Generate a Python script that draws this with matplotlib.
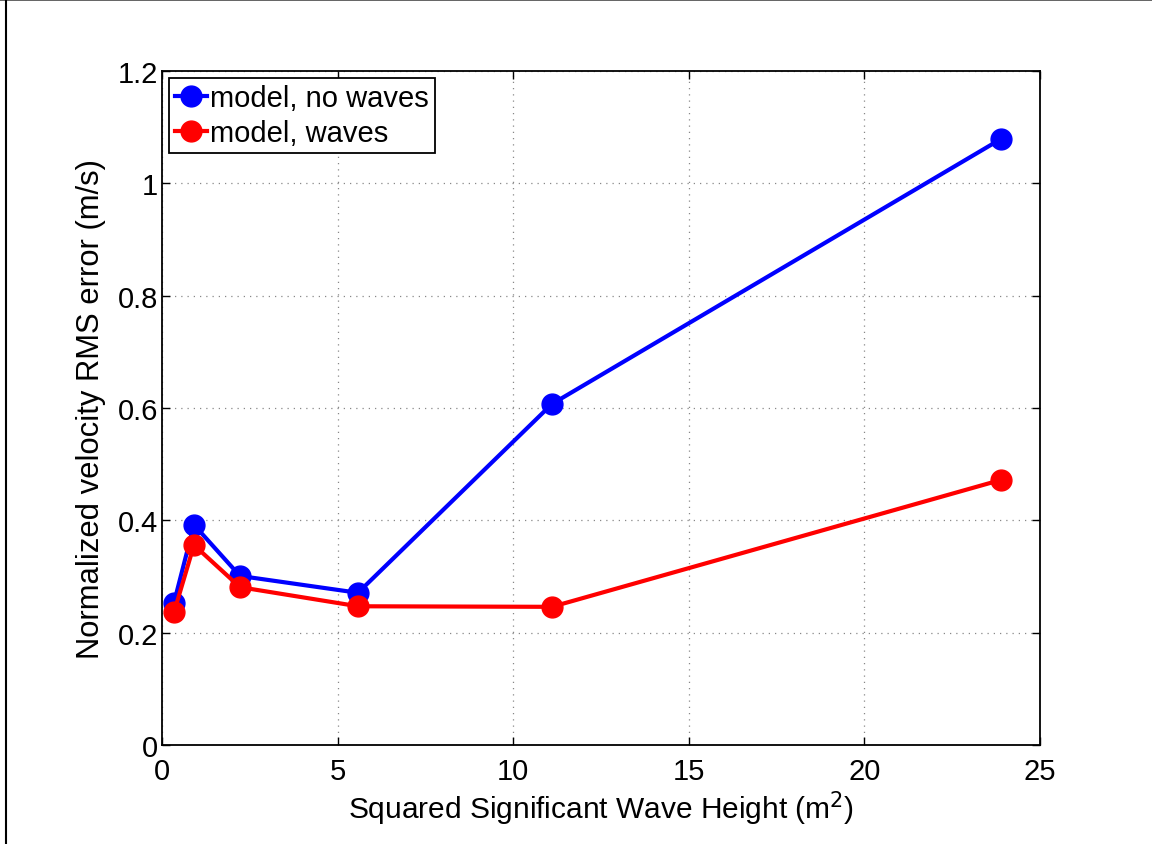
import matplotlib
matplotlib.use("Agg")
import matplotlib.pyplot as plt
from matplotlib.lines import Line2D

plt.rcParams['font.family'] = ['Liberation Sans', 'DejaVu Sans']

hs2 = [0.34, 0.91, 2.22, 5.58, 11.1, 23.89]
no_waves = [0.253, 0.392, 0.301, 0.271, 0.607, 1.079]
waves = [0.236, 0.356, 0.281, 0.247, 0.246, 0.472]
xticks = [0, 5, 10, 15, 20, 25]
yticks = [0, 0.2, 0.4, 0.6, 0.8, 1.0, 1.2]
ytick_labels = ['0', '0.2', '0.4', '0.6', '0.8', '1', '1.2']

fig = plt.figure(figsize=(11.52, 8.45), dpi=100)
ax = fig.add_axes([162/1152, 1-746/845, (1040-162)/1152, (746-72)/845])

ax.plot(hs2, no_waves, '-o', color='#0000ff', lw=3.0, ms=15, label='model, no waves', zorder=3)
ax.plot(hs2, waves, '-o', color='#ff0000', lw=3.0, ms=15, label='model, waves', zorder=3)

ax.set_xlim(0, 25)
ax.set_ylim(0, 1.2)
ax.set_xticks(xticks)
ax.set_xticklabels([str(v) for v in xticks])
ax.set_yticks(yticks)
ax.set_yticklabels(ytick_labels)
ax.tick_params(direction='in', top=True, right=True, labelsize=21, length=6, width=1)
ax.tick_params(axis='x', pad=9)
ax.tick_params(axis='y', pad=3)
ax.grid(True, linestyle=(0, (1, 4)), color='#888888', linewidth=0.9)
for s in ax.spines.values():
    s.set_linewidth(1.3)

ax.set_xlabel('Squared Significant Wave Height (m$^2$)', fontsize=21.5, labelpad=2)
ax.set_ylabel('Normalized velocity RMS error (m/s)', fontsize=22.3, labelpad=8)

leg = ax.legend(loc='upper left', fontsize=21, handlelength=1.1, handletextpad=0.1,
                borderpad=0.2, labelspacing=0.25, borderaxespad=0.25, fancybox=False,
                framealpha=1, edgecolor='black')
leg.get_frame().set_linewidth(1.3)

fig.add_artist(Line2D([0, 1], [0.9995, 0.9995], transform=fig.transFigure, color='#555555', lw=2))
fig.add_artist(Line2D([5.5/1152, 5.5/1152], [0, 1], transform=fig.transFigure, color='black', lw=1.5))

fig.savefig('out.png', dpi=100)
